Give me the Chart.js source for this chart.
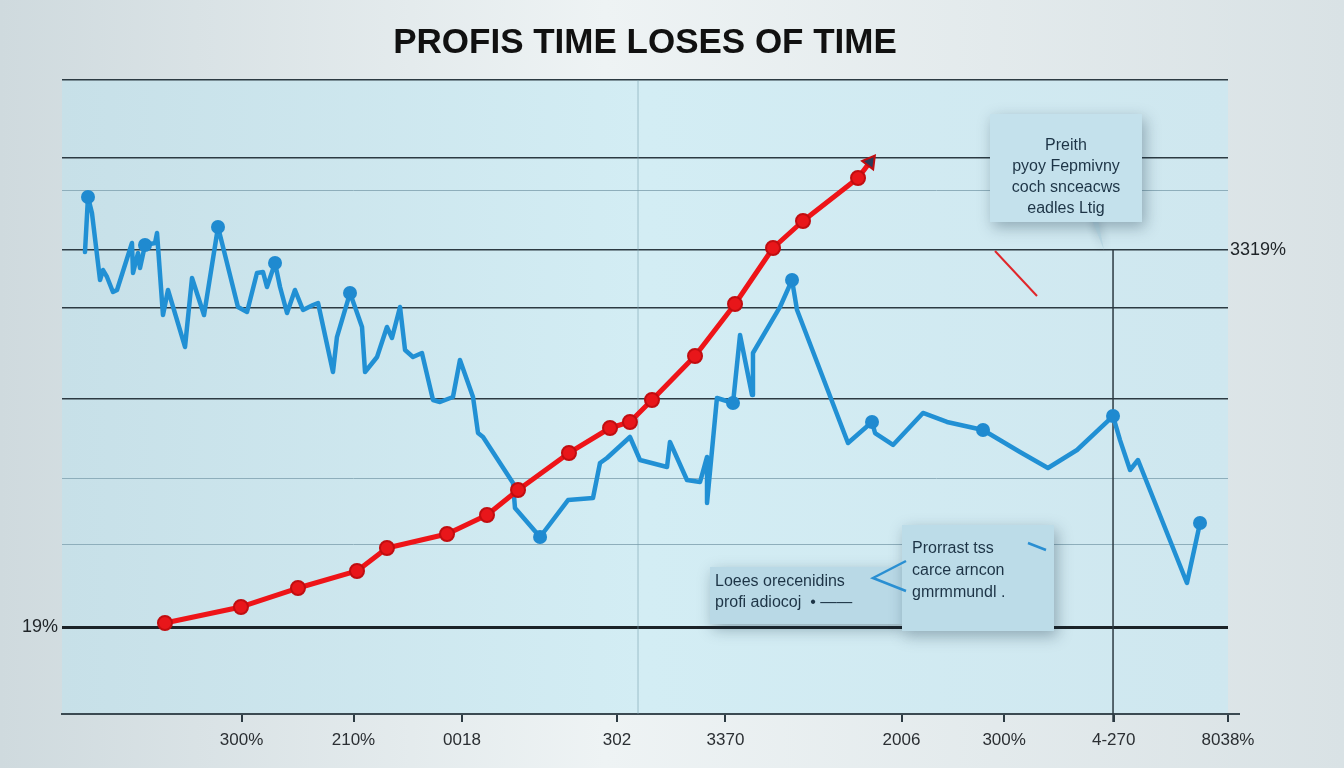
<!DOCTYPE html>
<html>
<head>
<meta charset="utf-8">
<title>Profis time loses of time</title>
<script src="https://cdn.jsdelivr.net/npm/chart.js@4.4.1/dist/chart.umd.min.js"></script>
<style>
  html, body { margin: 0; padding: 0; background: #e3eaec; }
  #chart { display: block; }
</style>
</head>
<body>
<canvas id="chart" width="1344" height="768"></canvas>
<script>
// ---- data (both scales run 0..100) ----
const xTickValues = [15.4, 25.0, 34.3, 47.6, 56.9, 72.0, 80.8, 90.2, 100];
const xTickLabels = ['300%', '210%', '0018', '302', '3370', '2006', '300%', '4-270', '8038%'];

const gridValues = [100, 87.7, 82.6, 73.2, 64.0, 49.8, 37.2, 26.8, 13.7];
const leftLabels = ['', '', '', '', '', '', '', '', '19%'];
const rightLabels = ['', '', '', '3319%', '', '', '', '', ''];

const redX = [8.83, 15.35, 20.24, 25.30, 27.87, 33.02, 36.45, 39.11, 43.48, 47.0, 48.71, 50.6, 54.29, 57.72, 60.98, 63.55, 68.27, 69.3];
const redY = [14.35, 16.88, 19.87, 22.56, 26.18, 28.39, 31.39, 35.33, 41.17, 45.11, 46.06, 49.53, 56.47, 64.67, 73.5, 77.76, 84.54, 87.07];

const blueX = [1.97, 2.23, 2.57, 3.26, 3.52, 3.86, 4.37, 4.72, 6.0, 6.09, 6.52, 6.69, 7.12, 7.98, 8.15, 8.66, 9.09, 10.55, 11.15, 12.18,
  13.38, 13.81, 15.09, 15.87, 16.72, 17.24, 17.58, 18.27, 18.70, 19.30, 19.98, 20.67, 21.53, 21.96, 23.24, 23.58, 24.70, 25.13, 25.73, 25.99,
  27.02, 27.87, 28.30, 28.99, 29.42, 30.10, 30.87, 31.82, 32.42, 33.53, 34.13, 35.25, 35.68, 36.11, 38.68, 38.85, 41.0, 43.4, 45.54, 46.14,
  46.74, 48.71, 49.57, 51.89, 52.14, 53.6, 54.72, 55.32, 55.32, 56.17, 57.55, 58.15, 59.18, 59.26, 61.58, 62.61, 63.04, 67.41, 69.47, 69.73,
  71.27, 73.84, 75.9, 78.99, 82.16, 84.56, 87.05, 90.14, 90.74, 91.6, 92.28, 96.48, 97.6];
const blueY = [72.87, 81.55, 79.02, 68.45, 70.03, 68.93, 66.56, 66.88, 74.29, 69.56, 72.71, 70.35, 73.97, 74.29, 75.87, 62.93, 66.88, 57.89, 68.77, 62.93,
  76.81, 73.66, 64.2, 63.41, 69.56, 69.72, 67.35, 71.14, 67.35, 63.25, 66.88, 63.72, 64.51, 64.83, 53.94, 59.46, 66.4, 64.2, 61.04, 53.94,
  56.31, 61.04, 59.31, 64.2, 57.41, 56.31, 56.94, 49.53, 49.21, 50.0, 55.84, 50.0, 44.32, 43.69, 36.44, 32.49, 27.92, 33.75, 34.07, 39.59,
  40.38, 43.69, 40.06, 38.96, 42.9, 36.91, 36.59, 40.54, 33.28, 49.84, 49.05, 59.78, 50.32, 56.94, 64.2, 68.45, 63.72, 42.74, 46.06, 44.32,
  42.43, 47.48, 46.06, 44.79, 41.32, 38.8, 41.64, 47.0, 43.2, 38.49, 40.06, 20.66, 30.13];
const blueMarkers = [1, 12, 20, 27, 36, 56, 70, 75, 78, 83, 87, 92];

const verticalLinesX = [49.4, 90.14];

// ---- styling ----
const darkGrid = '#2c3a42';
const lightGrid = '#8eaebb';
const gridStyle = ['dark', 'dark', 'light', 'dark', 'dark', 'dark', 'light', 'light', 'base'];
const font = '"Liberation Sans", Arial, sans-serif';

const toPoints = (xs, ys) => xs.map((x, i) => ({ x: x, y: ys[i] }));

const backgroundPlugin = {
  id: 'background',
  beforeDraw(chart) {
    const { ctx, chartArea: a, width, height } = chart;
    ctx.save();
    const page = ctx.createLinearGradient(0, 0, width, 0);
    page.addColorStop(0, '#cfdade');
    page.addColorStop(0.45, '#eef3f4');
    page.addColorStop(1, '#d9e2e5');
    ctx.fillStyle = page;
    ctx.fillRect(0, 0, width, height);

    const plot = ctx.createLinearGradient(a.left, 0, a.right, 0);
    plot.addColorStop(0, '#c7e0e8');
    plot.addColorStop(0.5, '#d3edf4');
    plot.addColorStop(1, '#cfe7ef');
    ctx.fillStyle = plot;
    ctx.fillRect(a.left, a.top, a.right - a.left, a.bottom - a.top);
    ctx.restore();
  },
  beforeDatasetsDraw(chart) {
    const { ctx, chartArea: a, scales } = chart;
    ctx.save();
    // faint middle line
    let px = scales.x.getPixelForValue(verticalLinesX[0]);
    ctx.strokeStyle = 'rgba(120,160,175,0.6)';
    ctx.lineWidth = 1;
    ctx.beginPath();
    ctx.moveTo(px, a.top);
    ctx.lineTo(px, a.bottom);
    ctx.stroke();
    // dark marker line
    px = scales.x.getPixelForValue(verticalLinesX[1]);
    ctx.strokeStyle = '#2c3a42';
    ctx.lineWidth = 1.5;
    ctx.beginPath();
    ctx.moveTo(px, scales.y.getPixelForValue(73.2));
    ctx.lineTo(px, a.bottom + 8);
    ctx.stroke();
    // axis line runs a little past the last tick
    ctx.strokeStyle = '#3b4a52';
    ctx.lineWidth = 2;
    ctx.beginPath();
    ctx.moveTo(a.right, a.bottom);
    ctx.lineTo(a.right + 12, a.bottom);
    ctx.stroke();
    ctx.restore();
  }
};

function noteBox(ctx, x, y, w, h, lines, opts) {
  ctx.save();
  ctx.shadowColor = 'rgba(20,50,70,0.35)';
  ctx.shadowBlur = 14;
  ctx.shadowOffsetX = 3;
  ctx.shadowOffsetY = 5;
  ctx.fillStyle = opts.fill;
  ctx.fillRect(x, y, w, h);
  ctx.restore();
  ctx.save();
  ctx.fillStyle = '#1d3446';
  ctx.font = opts.font;
  ctx.textAlign = opts.align;
  ctx.textBaseline = 'middle';
  lines.forEach((t, i) => ctx.fillText(t, opts.tx, y + opts.ty + i * opts.lh));
  ctx.restore();
}

const notesPlugin = {
  id: 'notes',
  afterDatasetsDraw(chart) {
    const { ctx } = chart;
    // upper-right callout with tail
    ctx.save();
    ctx.fillStyle = '#b7d6e2';
    ctx.shadowColor = 'rgba(20,50,70,0.3)';
    ctx.shadowBlur = 8;
    ctx.beginPath();
    ctx.moveTo(1050, 220);
    ctx.lineTo(1092, 220);
    ctx.lineTo(1104, 250);
    ctx.lineTo(1098, 220);
    ctx.closePath();
    ctx.fill();
    ctx.restore();
    noteBox(ctx, 990, 114, 152, 108, ['Preith', 'pyoy Fepmivny', 'coch snceacws', 'eadles Ltig'],
      { fill: '#c4e1ec', font: '16px ' + font, align: 'center', tx: 1066, ty: 32, lh: 21 });

    // small red pointer
    ctx.save();
    ctx.strokeStyle = '#e0262a';
    ctx.lineWidth = 2;
    ctx.beginPath();
    ctx.moveTo(995, 251);
    ctx.lineTo(1037, 296);
    ctx.stroke();
    ctx.restore();

    // lower callouts
    noteBox(ctx, 710, 567, 192, 57, ['Loees orecenidins', 'profi adiocoj  \u2022 \u2014\u2014'],
      { fill: '#b9d9e6', font: '16px ' + font, align: 'left', tx: 715, ty: 15, lh: 21 });
    noteBox(ctx, 902, 525, 152, 106, ['Prorrast tss', 'carce arncon', 'gmrmmundl .'],
      { fill: '#bcdce8', font: '16px ' + font, align: 'left', tx: 912, ty: 24, lh: 22 });

    ctx.save();
    ctx.strokeStyle = '#2a8fd2';
    ctx.lineWidth = 2.5;
    ctx.beginPath();
    ctx.moveTo(906, 561);
    ctx.lineTo(873, 578);
    ctx.lineTo(906, 591);
    ctx.moveTo(1028, 543);
    ctx.lineTo(1046, 550);
    ctx.stroke();
    ctx.restore();
  }
};

new Chart(document.getElementById('chart'), {
  type: 'scatter',
  data: {
    datasets: [
      {
        label: 'Profit',
        data: toPoints(redX, redY),
        showLine: true,
        borderColor: '#ee1418',
        borderWidth: 5,
        borderJoinStyle: 'round',
        borderCapStyle: 'round',
        backgroundColor: '#e8161a',
        pointBorderColor: '#c10d10',
        pointBorderWidth: 2,
        pointRadius: (c) => c.dataIndex === redX.length - 1 ? 8 : 7,
        pointStyle: (c) => c.dataIndex === redX.length - 1 ? 'triangle' : 'circle',
        rotation: 37,
        pointBackgroundColor: (c) => c.dataIndex === redX.length - 1 ? '#2d3c58' : '#e8161a',
        tension: 0
      },
      {
        label: 'Loss',
        data: toPoints(blueX, blueY),
        showLine: true,
        borderColor: '#2190d4',
        borderWidth: 4.5,
        borderJoinStyle: 'round',
        borderCapStyle: 'round',
        backgroundColor: '#1f8ad0',
        pointBorderWidth: 0,
        pointRadius: (c) => blueMarkers.includes(c.dataIndex) ? 7 : 0,
        tension: 0
      }
    ]
  },
  options: {
    responsive: false,
    animation: false,
    layout: { padding: { top: 0, bottom: 0, left: 0, right: 0 } },
    plugins: {
      legend: { display: false },
      tooltip: { enabled: false },
      title: {
        display: true,
        fullSize: false,
        text: 'PROFIS TIME LOSES OF TIME',
        color: '#111',
        font: { family: font, size: 35, weight: 'bold' },
        padding: { top: 22, bottom: 16 }
      }
    },
    scales: {
      x: {
        type: 'linear',
        min: 0,
        max: 100,
        afterBuildTicks: (s) => { s.ticks = xTickValues.map(v => ({ value: v })); },
        afterFit: (s) => { s.height = 54; },
        ticks: {
          color: '#2b2f33',
          font: { family: font, size: 17 },
          padding: 8,
          maxRotation: 0,
          callback: (v, i) => xTickLabels[i]
        },
        grid: { drawOnChartArea: false, drawTicks: true, tickLength: 8, color: '#2c3a42', lineWidth: 2 },
        border: { display: true, color: '#3b4a52', width: 2 }
      },
      y: {
        type: 'linear',
        position: 'left',
        min: 0,
        max: 100,
        afterBuildTicks: (s) => { s.ticks = gridValues.map(v => ({ value: v })); },
        afterFit: (s) => { s.width = 62; },
        ticks: {
          color: '#1f2428',
          font: { family: font, size: 18 },
          padding: 4,
          callback: (v, i) => leftLabels[i]
        },
        grid: {
          drawTicks: false,
          color: (c) => gridStyle[c.index] === 'light' ? lightGrid : (gridStyle[c.index] === 'base' ? '#1b2328' : darkGrid),
          lineWidth: (c) => gridStyle[c.index] === 'base' ? 3 : (gridStyle[c.index] === 'light' ? 1 : 1.5)
        },
        border: { display: false }
      },
      y2: {
        type: 'linear',
        position: 'right',
        min: 0,
        max: 100,
        afterBuildTicks: (s) => { s.ticks = gridValues.map(v => ({ value: v })); },
        afterFit: (s) => { s.width = 116; },
        ticks: {
          color: '#1f2428',
          font: { family: font, size: 18 },
          padding: -6,
          callback: (v, i) => rightLabels[i]
        },
        grid: { display: false },
        border: { display: false }
      }
    }
  },
  plugins: [backgroundPlugin, notesPlugin]
});
</script>
</body>
</html>
